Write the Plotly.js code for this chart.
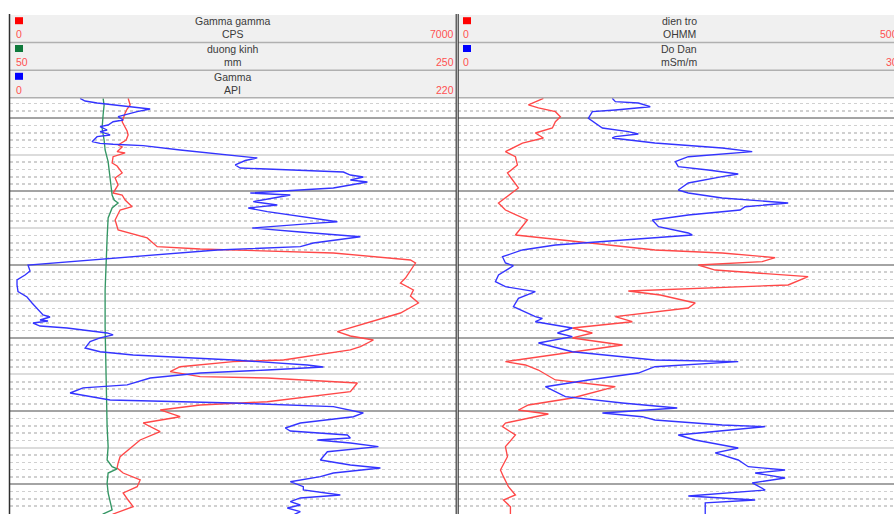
<!DOCTYPE html>
<html>
<head>
<meta charset="utf-8">
<script src="https://cdn.plot.ly/plotly-3.0.1.min.js"></script>
<style>
html,body{margin:0;padding:0;overflow:hidden;background:#fff;}
#chart{width:900px;height:514px;}
</style>
</head>
<body>
<div id="chart"></div>
<script>
// ---- Data (depth in m, values in curve units) ----
var depthGG = [27.27,28.18,28.73,29.28,30.47,31.15,31.74,32.28,32.97,33.65,33.92,34.56,34.74,35.25,36.11,36.52,37.47,38.16,39.11,40.21,40.48,41.16,42.08,42.53,43.89,45.26,46.35,47.54,47.86,48.40,49.36,49.77,51.13,51.82,52.50,53.46,54.28,55.23,56.60,57.97,59.15,59.74,60.29,61.20,61.65,63.02,63.25,63.94,64.62,65.30,65.48,66.16,67.35,68.72,69.17,69.85,70.77,71.63,72.81,73.95,76.23,77.09,77.77,78.46,79.41,80.33,81.19,82.15,83.06,84.06,84.60];
var gammaGammaCPS = [1854,1886,1838,1807,1760,1807,1838,1854,1823,1697,1760,1681,1807,1618,1603,1681,1760,1650,1697,1618,1760,1807,1917,1728,1650,1697,2153,2310,2985,5075,6285,6364,6254,6207,6128,6332,6285,6411,6128,5610,5138,5342,5704,5500,5342,4290,3504,2671,2514,2985,4038,5452,5342,4038,2985,2357,2671,2090,2357,2043,1728,1697,1681,1776,2043,1996,1776,1854,1933,1618,1560];

var depthCal = [27.27,28.18,29.55,31.33,32.97,34.33,35.93,38.16,40.48,41.16,41.57,42.26,43.62,46.35,49.59,53.46,58.51,67.53,72.13,74.86,76.68,77.60,77.91,78.46,79.82,81.19,82.55,83.51,84.06,84.60];
var duongKinhMM = [91.75,92.20,91.75,91.30,92.20,92.65,94.00,94.89,95.79,96.69,98.48,95.79,94.00,93.55,93.10,92.65,92.65,93.10,93.55,94.00,93.55,95.79,98.04,94.00,93.55,94.00,94.89,95.79,91.75,91.50];

var depthGR = [27.27,27.64,27.91,28.42,28.73,29.10,29.55,29.78,30.23,30.47,30.92,31.15,31.60,31.83,32.28,32.51,33.20,33.42,33.55,33.74,34.33,35.42,35.77,36.38,36.79,37.06,37.34,37.75,38.02,38.43,38.70,39.52,40.21,40.48,41.39,41.85,42.26,42.76,43.44,44.13,44.35,44.99,45.53,46.18,47.04,47.54,47.99,50.04,50.86,51.41,52.09,52.77,53.69,54.41,55.23,56.87,57.15,57.56,57.69,57.97,58.38,58.65,59.33,59.60,60.01,60.52,61.38,61.89,62.34,63.02,63.70,63.98,64.39,64.80,65.48,66.43,66.84,67.53,68.48,68.89,69.40,70.26,70.77,71.63,72.31,72.72,73.27,73.68,73.95,74.36,74.86,75.55,76.68,76.95,77.36,77.77,78.46,78.96,79.65,80.33,80.78,81.46,81.87,82.38,82.83,83.24,83.74,84.06,84.60];
var gammaAPI = [34.57,37.04,42.96,57.78,69.14,62.72,55.80,53.33,55.80,50.86,48.40,44.44,47.90,44.44,49.38,42.96,40.49,44.44,50.86,65.68,83.95,121.98,116.05,111.11,113.58,143.21,164.45,167.90,174.32,167.90,176.30,159.51,118.52,138.27,120.00,131.85,117.53,126.91,143.21,161.48,149.63,119.51,143.21,172.84,149.63,143.21,102.22,8.89,9.88,7.41,3.46,3.46,3.95,8.40,10.86,16.30,19.75,14.81,18.77,11.36,14.81,28.15,47.90,50.86,44.44,39.51,37.04,44.44,60.74,110.12,146.67,154.57,126.91,93.83,69.14,57.78,36.05,29.63,49.38,110.12,159.51,174.32,169.38,143.21,135.80,138.27,166.42,167.90,151.60,167.90,181.73,156.54,153.09,159.51,167.90,182.72,159.51,153.09,138.27,144.69,144.69,162.96,143.21,138.27,143.21,136.79,143.21,140.74,143.00];

var depthRes = [27.27,28.18,28.59,29.10,29.78,30.47,31.33,32.01,32.69,33.38,34.56,35.25,36.38,37.47,39.52,40.89,41.57,42.53,43.89,45.94,46.35,47.04,47.99,48.40,49.04,49.59,50.04,50.73,51.64,52.77,53.18,53.59,54.14,55.23,55.92,57.10,57.79,58.65,59.33,60.01,60.97,62.57,63.25,63.70,64.39,65.75,66.67,68.21,69.17,69.85,70.40,71.63,72.13,73.27,74.86,76.23,78.05,78.96,80.33,81.46,82.15,83.06,84.06,84.60];
var dienTroOHMM = [96.61,79.66,90.96,110.17,115.82,110.17,106.78,87.57,96.61,72.88,53.67,64.97,67.23,55.93,68.36,53.67,45.76,53.67,78.53,64.97,95.48,147.46,223.16,298.87,358.76,344.07,271.75,290.96,396.05,373.45,279.66,192.66,228.81,268.36,260.45,177.97,197.17,129.38,151.98,129.38,185.88,90.96,53.67,76.27,90.96,110.17,177.97,129.38,79.66,68.36,102.26,53.67,50.28,64.97,53.67,55.93,48.02,51.41,57.06,64.97,51.41,59.32,59.32,59.30];

var depthCond = [27.27,27.73,27.91,28.42,28.87,29.10,30.00,30.64,31.33,31.83,32.15,32.51,32.69,33.38,34.06,34.56,35.25,35.93,36.61,37.06,37.61,37.98,38.84,39.80,40.21,40.89,41.57,42.08,42.53,43.21,43.89,44.81,45.67,45.94,46.63,47.31,47.99,48.91,49.77,50.14,51.41,52.32,53.01,53.69,54.59,55.23,55.74,57.10,57.35,57.79,58.65,59.33,59.84,60.70,61.89,63.02,63.25,63.94,64.80,65.75,66.67,68.03,68.89,69.58,70.26,70.77,71.22,71.90,72.13,73.27,73.95,75.04,75.72,76.68,77.60,78.05,78.46,79.14,79.82,80.78,81.60,82.15,82.55,84.06,84.60];
var doDanMSm = [10.47,10.68,12.24,13.05,10.68,9.12,8.85,9.32,9.80,11.56,12.24,10.68,10.47,13.36,17.93,19.97,15.63,14.75,14.95,16.98,19.02,17.93,15.63,14.95,15.63,17.93,22.41,19.49,19.15,15.63,13.19,13.61,15.63,15.90,11.15,6.61,4.37,3.02,3.22,3.76,2.75,2.54,3.22,5.25,4.10,3.90,3.76,5.25,5.73,5.25,7.76,6.75,7.76,5.46,7.76,13.36,19.02,13.36,12.24,8.85,5.93,7.29,11.15,14.88,9.80,12.51,13.36,17.93,20.85,14.95,16.10,19.02,17.46,19.02,19.70,22.20,20.17,22.20,19.97,20.85,15.63,20.17,16.78,16.78,16.78];

// header texts / scales
var leftCurves = [
  {name:'Gamma gamma', unit:'CPS', min:'0', max:'7000', box:'#ff0000'},
  {name:'duong kinh', unit:'mm', min:'50', max:'250', box:'#0f7a3c'},
  {name:'Gamma', unit:'API', min:'0', max:'220', box:'#0000ff'}
];
var rightCurves = [
  {name:'dien tro', unit:'OHMM', min:'0', max:'500', box:'#ff0000'},
  {name:'Do Dan', unit:'mSm/m', min:'0', max:'30', box:'#0000ff'}
];
var depthRange = [84.06, 27.16];

// ---- Layout helpers (pixel -> paper) ----
var W = 900, H = 514;
function px(x){ return x / W; }
function py(y){ return 1 - y / H; }
var L0 = 10, L1 = 456, R0 = 458, R1 = 900;
var HEAD_TOP = 15, BODY_TOP = 97.5;

var RED = 'rgb(255,72,72)', BLUE = 'rgb(52,52,255)', GREEN = 'rgb(52,150,100)';

var traces = [
  {x: gammaGammaCPS, y: depthGG, xaxis:'x', yaxis:'y', mode:'lines', line:{color:RED, width:1.35}},
  {x: duongKinhMM, y: depthCal, xaxis:'x2', yaxis:'y2', mode:'lines', line:{color:GREEN, width:1.35}},
  {x: gammaAPI, y: depthGR, xaxis:'x3', yaxis:'y', mode:'lines', line:{color:BLUE, width:1.35}},
  {x: dienTroOHMM, y: depthRes, xaxis:'x4', yaxis:'y3', mode:'lines', line:{color:RED, width:1.35}},
  {x: doDanMSm, y: depthCond, xaxis:'x5', yaxis:'y4', mode:'lines', line:{color:BLUE, width:1.35}}
];

function hiddenX(extra){
  var a = {showgrid:false, zeroline:false, showline:false, showticklabels:false, ticks:'', fixedrange:true};
  for (var k in extra) a[k] = extra[k];
  return a;
}
var yDomain = [0, (H - BODY_TOP) / H];
function lightY(anchor){
  return {domain:yDomain, range:depthRange, anchor:anchor, showticklabels:false, ticks:'', zeroline:false, showline:false,
    tick0:0, dtick:5, showgrid:true, gridcolor:'#dcdcdc', gridwidth:2,
    minor:{tick0:0, dtick:1, showgrid:true, gridcolor:'#d0d0d0', gridwidth:1.6, griddash:'3px,3px'}, fixedrange:true};
}
function darkY(anchor, over){
  return {range:depthRange, anchor:anchor, overlaying:over, showticklabels:false, ticks:'', zeroline:false, showline:false,
    tick0:0, dtick:10, showgrid:true, gridcolor:'#a4a4a4', gridwidth:2, fixedrange:true};
}

var shapes = [];
var annotations = [];
function rect(x0,y0,x1,y1,fill){
  shapes.push({type:'rect', xref:'paper', yref:'paper', x0:px(x0), x1:px(x1), y0:py(y1), y1:py(y0), fillcolor:fill, line:{width:0}, layer:'below'});
}
function hline(x0,x1,y,color,w){
  shapes.push({type:'line', xref:'paper', yref:'paper', x0:px(x0), x1:px(x1), y0:py(y), y1:py(y), line:{color:color, width:w}});
}
function vline(x,y0,y1,color,w){
  shapes.push({type:'line', xref:'paper', yref:'paper', x0:px(x), x1:px(x), y0:py(y0), y1:py(y1), line:{color:color, width:w}});
}
function text(t, x, y, anchor, color){
  annotations.push({text:t, xref:'paper', yref:'paper', x:px(x), y:py(y), xanchor:anchor, yanchor:'middle', showarrow:false,
    font:{family:'Liberation Sans, Arial, sans-serif', size:10.5, color:color}, borderpad:0});
}
function header(curves, x0, x1, nRows){
  rect(x0, HEAD_TOP, x1, BODY_TOP, '#f0f0f0');
  var cx = (x0 + x1) / 2;
  for (var i = 0; i < nRows; i++) {
    var yTitle = HEAD_TOP + 6 + i * 27.8;
    var yScale = HEAD_TOP + 19.5 + i * 27.8;
    hline(x0, x1, HEAD_TOP + (i + 1) * 27.6, '#b0b0b0', 1.5);
    if (i < curves.length) {
      var c = curves[i];
      rect(x0 + 5, yTitle - 3.8, x0 + 13, yTitle + 3.2, c.box);
      text(c.name, cx, yTitle, 'center', '#3a3a3a');
      text(c.unit, cx, yScale, 'center', '#3a3a3a');
      text(c.min, x0 + 4.5, yScale, 'left', '#ff5050');
      text(c.max, x1 - 1, yScale, 'right', '#ff5050');
    }
  }
}
header(leftCurves, L0, L1 - 0.5, 3);
header(rightCurves, R0, R1, 3);
vline(9.5, 14, H, '#303030', 1.5);
vline(456.2, 14, H, '#3a3a3a', 1.2);
vline(458.2, 14, H, '#3a3a3a', 1.2);

var layout = {
  width: W, height: H,
  margin: {l:0, r:0, t:0, b:0},
  paper_bgcolor: '#ffffff', plot_bgcolor: '#ffffff',
  showlegend: false,
  xaxis: hiddenX({domain:[px(L0), px(L1)], range:[0, 7000], anchor:'y'}),
  xaxis2: hiddenX({range:[50, 250], overlaying:'x', anchor:'y2'}),
  xaxis3: hiddenX({range:[0, 220], overlaying:'x', anchor:'y'}),
  xaxis4: hiddenX({domain:[px(R0), px(R1)], range:[0, 500], anchor:'y3'}),
  xaxis5: hiddenX({range:[0, 30], overlaying:'x4', anchor:'y4'}),
  yaxis: lightY('x'),
  yaxis2: darkY('x2', 'y'),
  yaxis3: lightY('x4'),
  yaxis4: darkY('x5', 'y3'),
  shapes: shapes,
  annotations: annotations
};

Plotly.newPlot('chart', traces, layout, {staticPlot:true, displayModeBar:false});
</script>
</body>
</html>
